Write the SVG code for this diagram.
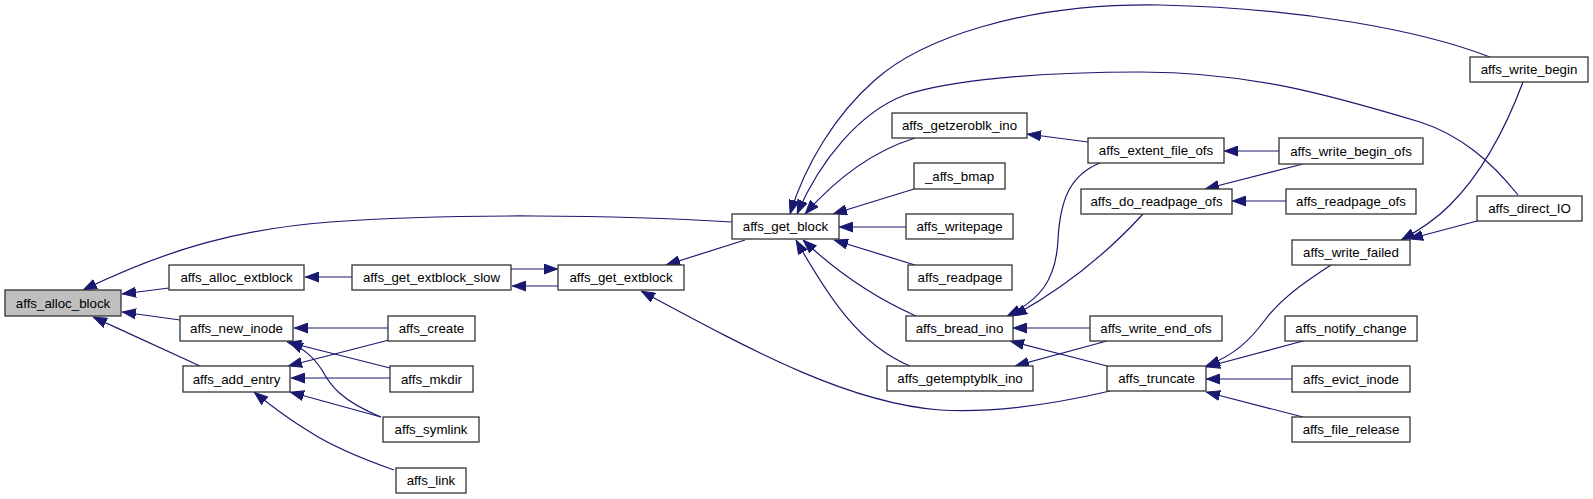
<svg xmlns="http://www.w3.org/2000/svg" width="1593" height="499" viewBox="0 0 1593 499">
<style>
.n rect{fill:#fff;stroke:#333;stroke-width:1.3}
.n.root rect{fill:#bfbfbf}
.n text{font-family:"Liberation Sans",Arial,sans-serif;font-size:13.3px;fill:#000;text-anchor:middle}
#edges path{fill:none;stroke:#191970;stroke-width:1.2;marker-end:url(#ah)}
</style>
<defs>
<marker id="ah" viewBox="0 0 14 11" refX="14" refY="5.5" markerUnits="userSpaceOnUse" markerWidth="14" markerHeight="11" orient="auto">
<path d="M0,0.5 L13.5,5.5 L0,10.5 z" fill="#191970" stroke="#191970" stroke-width="1"/>
</marker>
</defs>
<rect width="1593" height="499" fill="#fff"/>
<g id="edges">
<path d="M732,222 C620,215 450,213 330,222 C240,229 170,248 83,290"/>
<path d="M169,288 L122,294"/>
<path d="M180,320 L122,312"/>
<path d="M200,366 C170,352 130,334 93,317"/>
<path d="M352,277 L305,277"/>
<path d="M511,269 L558,269"/>
<path d="M558,286 C540,286 525,286 512,286"/>
<path d="M745,240 L666,265"/>
<path d="M1110,391 C1050,405 990,413 940,410 C850,403 760,355 641,291"/>
<path d="M388,328 L294,328"/>
<path d="M390,368 L287,342"/>
<path d="M381,417 C340,400 330,385 322,370 C312,355 302,348 289,342"/>
<path d="M389,340 L288,366"/>
<path d="M390,378 L291,378"/>
<path d="M381,417 L290,392"/>
<path d="M394,470 C360,458 330,445 310,432 C290,420 270,405 254,392"/>
<path d="M1490,57 C1420,30 1300,8 1160,5 C1020,3 920,40 875,80 C835,115 805,165 790,214"/>
<path d="M1518,195 C1490,160 1460,135 1420,122 C1330,95 1250,72 1140,72 C1040,72 950,80 905,95 C860,112 820,160 797,214"/>
<path d="M915,138 C870,152 835,180 805,214"/>
<path d="M914,189 L833,214"/>
<path d="M906,227 L839,227"/>
<path d="M915,265 L834,240"/>
<path d="M916,316 C880,300 840,275 803,240"/>
<path d="M910,366 C860,345 830,300 796,240"/>
<path d="M1088,142 L1027,134"/>
<path d="M1279,151 L1224,151"/>
<path d="M1303,164 L1205,189"/>
<path d="M1286,201 L1232,201"/>
<path d="M1100,163 C1070,175 1060,200 1058,240 C1056,280 1040,300 1007,316"/>
<path d="M1143,214 C1110,250 1070,285 1013,316"/>
<path d="M1090,328 L1013,328"/>
<path d="M1107,366 L1010,341"/>
<path d="M1107,341 L1015,366"/>
<path d="M1331,265 C1300,285 1280,300 1265,320 C1250,340 1235,355 1206,366"/>
<path d="M1303,341 L1206,367"/>
<path d="M1292,379 L1206,379"/>
<path d="M1303,417 L1206,392"/>
<path d="M1523,82 C1505,130 1480,175 1450,205 C1435,220 1420,230 1401,240"/>
<path d="M1477,221 L1409,239"/>
</g>
<g id="affs_alloc_block" class="n root"><rect x="5" y="290" width="116" height="26"/><text x="63" y="307.5">affs_alloc_block</text></g>
<g id="affs_alloc_extblock" class="n"><rect x="169" y="265" width="135" height="25"/><text x="236.5" y="282">affs_alloc_extblock</text></g>
<g id="affs_get_extblock_slow" class="n"><rect x="352" y="265" width="159" height="25"/><text x="431.5" y="282">affs_get_extblock_slow</text></g>
<g id="affs_get_extblock" class="n"><rect x="558" y="265" width="126" height="25"/><text x="621" y="282">affs_get_extblock</text></g>
<g id="affs_new_inode" class="n"><rect x="180" y="316" width="113" height="25"/><text x="236.5" y="333">affs_new_inode</text></g>
<g id="affs_add_entry" class="n"><rect x="183" y="366" width="107" height="26"/><text x="236.5" y="383.5">affs_add_entry</text></g>
<g id="affs_create" class="n"><rect x="388" y="316" width="87" height="25"/><text x="431.5" y="333">affs_create</text></g>
<g id="affs_mkdir" class="n"><rect x="390" y="366" width="83" height="26"/><text x="431.5" y="383.5">affs_mkdir</text></g>
<g id="affs_symlink" class="n"><rect x="383" y="417" width="96" height="25"/><text x="431" y="434">affs_symlink</text></g>
<g id="affs_link" class="n"><rect x="396" y="468" width="70" height="25"/><text x="431" y="485">affs_link</text></g>
<g id="affs_get_block" class="n"><rect x="732" y="214" width="107" height="25"/><text x="785.5" y="231">affs_get_block</text></g>
<g id="affs_getzeroblk_ino" class="n"><rect x="892" y="113" width="135" height="25"/><text x="959.5" y="130">affs_getzeroblk_ino</text></g>
<g id="_affs_bmap" class="n"><rect x="914" y="163" width="91" height="26"/><text x="959.5" y="180.5">_affs_bmap</text></g>
<g id="affs_writepage" class="n"><rect x="906" y="214" width="107" height="25"/><text x="959.5" y="231">affs_writepage</text></g>
<g id="affs_readpage" class="n"><rect x="908" y="265" width="104" height="25"/><text x="960" y="282">affs_readpage</text></g>
<g id="affs_bread_ino" class="n"><rect x="906" y="316" width="107" height="25"/><text x="959.5" y="333">affs_bread_ino</text></g>
<g id="affs_getemptyblk_ino" class="n"><rect x="887" y="366" width="146" height="25"/><text x="960" y="383">affs_getemptyblk_ino</text></g>
<g id="affs_extent_file_ofs" class="n"><rect x="1088" y="138" width="136" height="25"/><text x="1156" y="155">affs_extent_file_ofs</text></g>
<g id="affs_do_readpage_ofs" class="n"><rect x="1081" y="189" width="151" height="25"/><text x="1156.5" y="206">affs_do_readpage_ofs</text></g>
<g id="affs_write_end_ofs" class="n"><rect x="1090" y="316" width="132" height="25"/><text x="1156" y="333">affs_write_end_ofs</text></g>
<g id="affs_truncate" class="n"><rect x="1107" y="366" width="99" height="25"/><text x="1156.5" y="383">affs_truncate</text></g>
<g id="affs_write_begin_ofs" class="n"><rect x="1279" y="138" width="144" height="26"/><text x="1351" y="155.5">affs_write_begin_ofs</text></g>
<g id="affs_readpage_ofs" class="n"><rect x="1286" y="189" width="130" height="25"/><text x="1351" y="206">affs_readpage_ofs</text></g>
<g id="affs_write_failed" class="n"><rect x="1292" y="240" width="118" height="25"/><text x="1351" y="257">affs_write_failed</text></g>
<g id="affs_notify_change" class="n"><rect x="1285" y="316" width="132" height="25"/><text x="1351" y="333">affs_notify_change</text></g>
<g id="affs_evict_inode" class="n"><rect x="1292" y="366" width="118" height="26"/><text x="1351" y="383.5">affs_evict_inode</text></g>
<g id="affs_file_release" class="n"><rect x="1292" y="417" width="118" height="25"/><text x="1351" y="434">affs_file_release</text></g>
<g id="affs_write_begin" class="n"><rect x="1470" y="57" width="118" height="25"/><text x="1529" y="74">affs_write_begin</text></g>
<g id="affs_direct_IO" class="n"><rect x="1477" y="196" width="105" height="25"/><text x="1529.5" y="213">affs_direct_IO</text></g>
</svg>
